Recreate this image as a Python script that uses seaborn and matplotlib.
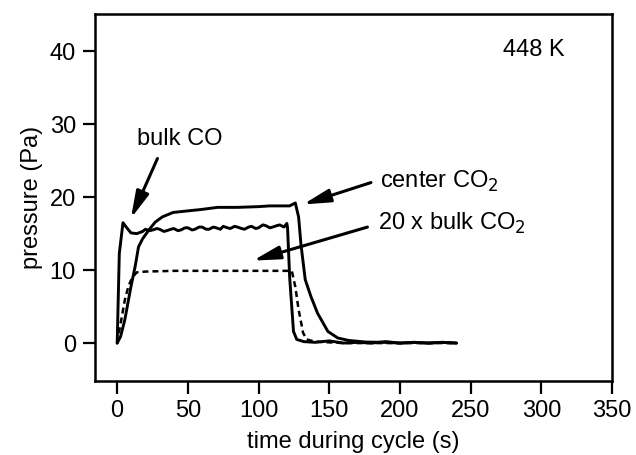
import matplotlib
matplotlib.use("Agg")
import matplotlib.pyplot as plt
import seaborn as sns
import pandas as pd

sns.set_theme(style="ticks")
plt.rcParams['font.family'] = ['Liberation Sans', 'DejaVu Sans']
plt.rcParams['text.color'] = 'black'
plt.rcParams['axes.labelcolor'] = 'black'

# bulk CO (solid, fast rise)
co_t = [0, 1.5, 4.1, 6, 9.7, 13.9, 18, 20, 23, 25, 28, 30, 33, 35, 38, 40, 43, 45, 48, 50,
        53, 55, 58, 60, 63, 65, 68, 70, 73, 75, 78, 80, 83, 85, 88, 90, 93, 95, 98, 100,
        103, 105, 108, 110, 113, 115, 118, 120, 120.5, 122, 124.7, 127, 132, 140, 150,
        160, 170, 180, 190, 200, 210, 220, 230, 240]
co_p = [0, 12.3, 16.5, 16.0, 15.1, 15.0, 15.3, 15.6, 15.4, 15.5, 15.7, 15.6, 15.3, 15.4,
        15.6, 15.7, 15.4, 15.5, 15.8, 15.8, 15.5, 15.6, 15.9, 15.9, 15.6, 15.6, 15.9, 15.8,
        15.6, 16.0, 15.8, 15.7, 16.0, 15.9, 15.7, 15.6, 15.9, 16.0, 15.7, 15.8, 16.2, 16.1,
        15.8, 15.9, 16.1, 16.2, 15.9, 16.4, 15.8, 9.0, 1.6, 0.5, 0.2, 0.1, 0.3, 0.0, 0.1,
        0.0, 0.2, 0.0, 0.1, 0.0, 0.1, 0.0]

# center CO2 (solid, slow rise)
cen_t = [0, 2.4, 5.4, 9.7, 12.7, 15.1, 18, 22.4, 27, 32, 39.5, 49, 59, 71, 85, 100, 107.6,
         115, 122, 126, 128.3, 130, 133, 137, 141.7, 149, 156, 163.7, 176, 190, 200, 210,
         220, 230, 240]
cen_p = [0, 0.9, 3.2, 7.7, 10.5, 13.2, 14.3, 15.5, 16.6, 17.3, 17.9, 18.1, 18.3, 18.6, 18.6,
         18.7, 18.8, 18.8, 18.8, 19.2, 17.3, 13.5, 8.7, 6.4, 4.1, 1.6, 0.7, 0.36, 0.14, 0.1,
         0.0, 0.1, 0.0, 0.1, 0.0]

# 20 x bulk CO2 (dashed)
b2_t = [0, 1.9, 2.9, 5.4, 7.8, 9.5, 11.4, 12.5, 13.9, 20, 40, 60, 80, 100, 123.5, 126,
        128.3, 131.5, 134, 140, 160, 180, 200, 220, 240]
b2_p = [0, 2.2, 3.2, 5.9, 7.7, 8.5, 9.1, 9.4, 9.7, 9.8, 9.9, 9.9, 9.9, 9.9, 9.9, 7.7,
        4.6, 1.4, 0.5, 0.2, 0.0, 0.0, 0.0, 0.0, 0.0]

x_ticks = [0, 50, 100, 150, 200, 250, 300, 350]
y_ticks = [0, 10, 20, 30, 40]

df_co = pd.DataFrame({"t": co_t, "p": co_p})
df_cen = pd.DataFrame({"t": cen_t, "p": cen_p})
df_b2 = pd.DataFrame({"t": b2_t, "p": b2_p})

fig = plt.figure(figsize=(6.36, 4.55), dpi=100)
ax = fig.add_axes([0.1498, 0.1626, 0.8125, 0.8066])

lw = 2.1
sns.lineplot(data=df_co, x="t", y="p", ax=ax, color="black", linewidth=lw, estimator=None, sort=False)
sns.lineplot(data=df_cen, x="t", y="p", ax=ax, color="black", linewidth=lw, estimator=None, sort=False)
sns.lineplot(data=df_b2, x="t", y="p", ax=ax, color="black", linewidth=1.8, estimator=None,
             sort=False, linestyle=(0, (2.4, 1.6)))

ax.set_xlim(-15.5, 350)
ax.set_ylim(-5.2, 45.1)
ax.set_xticks(x_ticks)
ax.set_yticks(y_ticks)
fs = 17
ax.tick_params(axis="both", direction="out", length=9, width=1.6, labelsize=fs,
               colors="black", pad=5)
for s in ax.spines.values():
    s.set_linewidth(1.8)
    s.set_color("black")

ax.set_xlabel("time during cycle (s)", fontsize=fs, labelpad=6)
ax.set_ylabel("pressure (Pa)", fontsize=fs, labelpad=5)

ax.text(273, 40.1, "448 K", fontsize=fs, va="center", ha="left")

arrow = dict(arrowstyle="-|>,head_length=0.9,head_width=0.22", color="black", lw=2.2,
             shrinkA=0, shrinkB=0, mutation_scale=18)
ax.annotate("", xy=(9.7, 17.1), xytext=(28.5, 25.3), arrowprops=arrow)
ax.text(13.9, 28.0, "bulk CO", fontsize=fs, va="center", ha="left")
ax.annotate("", xy=(131.5, 19.0), xytext=(179.5, 22.0), arrowprops=arrow)
ax.text(185.6, 22.1, "center CO$_2$", fontsize=fs, va="center", ha="left")
ax.annotate("", xy=(96, 11.3), xytext=(177, 15.9), arrowprops=arrow)
ax.text(184.4, 16.4, "20 x bulk CO$_2$", fontsize=fs, va="center", ha="left")

fig.savefig("out.png", dpi=100)
